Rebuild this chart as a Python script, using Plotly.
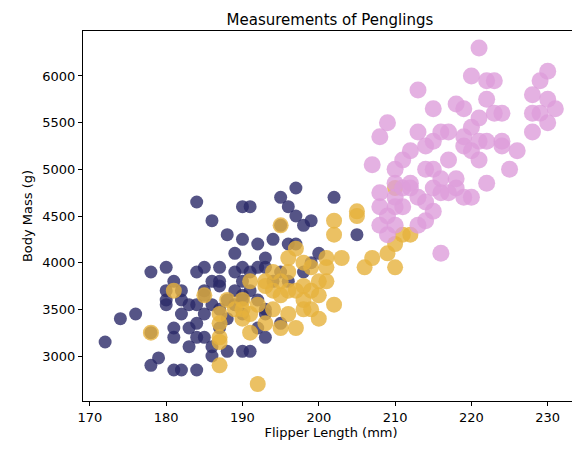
import plotly.graph_objects as go

adelie_flipper = [172,174,176,178,178,178,179,180,180,180,180,181,181,181,181,182,182,182,183,183,184,184,184,184,184,185,185,185,185,186,186,186,186,187,187,187,187,188,188,188,189,189,189,189,190,190,190,190,190,190,191,191,191,191,192,192,192,193,193,193,193,194,194,195,195,195,195,196,196,196,197,197,197,198,198,199,199,200,202,205,190,186,188,184,193,192,190,187,185,183,182]
adelie_mass = [3150,3400,3450,3900,3250,2900,2980,3950,3700,3600,3550,3800,3300,3200,2850,3450,3700,3600,3550,3100,3900,4650,3550,3350,2850,3700,3450,3650,3200,3800,4450,3100,3000,3750,3800,3500,3300,4300,3600,3050,3900,4100,3700,3550,4600,4250,3950,3800,3450,3050,4600,3900,3700,3050,4200,3600,3300,3950,4050,3500,3200,4250,3800,4700,4400,3900,3350,4600,4200,3800,4800,4500,4200,4400,3900,4450,4000,4100,4700,4300,3650,3550,3400,3200,3450,3950,3600,3950,3950,3300,2850]

chin_flipper = [178,181,185,187,187,187,187,188,189,190,190,190,191,191,192,192,193,193,193,194,194,195,195,195,196,196,196,197,197,197,198,198,198,199,199,200,200,201,201,201,202,202,202,203,205,205,206,207,209,210,210,210,211,212,199,194,191,196,198,200,195,187]
chin_mass = [3250,3700,3650,2900,3200,3350,3450,3600,3500,3400,3600,3500,3800,3450,2700,3550,3750,3800,3350,3700,3500,4400,3300,3650,3900,3700,3450,4150,3700,3300,3750,3600,3500,3950,3700,3800,3400,4050,3950,3800,4450,4300,3550,4050,4550,4500,3950,4050,4100,4800,4200,3950,4300,4300,3500,3900,3250,4050,4000,3650,3800,3150]

gentoo_flipper = [207,208,208,208,209,209,209,210,210,210,210,211,211,212,212,213,213,213,213,214,214,214,215,215,215,215,215,216,216,216,216,217,217,218,218,218,219,219,219,219,220,220,220,220,221,221,221,222,222,222,222,223,223,224,224,224,225,226,228,228,228,229,229,230,230,230,231,208,217,211,214,221,212,210]
gentoo_mass = [5050,4600,4400,5350,4300,4500,5500,4700,4850,5000,4400,4800,4600,4850,5200,4400,4700,5400,5850,4650,5000,5250,4800,5000,5300,5650,4550,4900,4750,5400,4100,4750,5100,5700,4800,4900,5250,5350,4700,5650,5200,4700,6000,5450,5550,6300,5100,5950,4850,5300,5750,5600,5950,5300,5250,5600,5000,5200,5400,5600,5800,5950,5600,6050,5500,5750,5650,4750,5400,5100,4450,5300,4800,4600]

species = [
    ("Adelie", adelie_flipper, adelie_mass, "#2b2968", 13),
    ("Chinstrap", chin_flipper, chin_mass, "#e6b23c", 16),
    ("Gentoo", gentoo_flipper, gentoo_mass, "#dd9ddb", 17),
]

fig = go.Figure()
for name, fx, my, col, sz in species:
    fig.add_trace(go.Scatter(x=fx, y=my, mode="markers", name=name,
                             marker=dict(color=col, size=sz, opacity=0.8, line=dict(width=0))))

axis = dict(showgrid=False, zeroline=False, showline=True, linecolor="black", linewidth=1,
            mirror=True, ticks="outside", ticklen=4, tickcolor="black",
            tickfont=dict(size=13, color="black"))
fig.update_layout(
    width=580, height=453, plot_bgcolor="white", paper_bgcolor="white",
    margin=dict(l=75, r=9, t=23, b=60), showlegend=False,
    font=dict(family="DejaVu Sans", color="black"),
    title=dict(text="Measurements of Penglings", x=0.555, xanchor="center", y=0.985, yanchor="top",
               font=dict(size=15)),
    xaxis=dict(axis, range=[169.1, 234.1], tickvals=[170,180,190,200,210,220,230],
               title=dict(text="Flipper Length (mm)", font=dict(size=13), standoff=4)),
    yaxis=dict(axis, range=[2518, 6482], tickvals=[3000,3500,4000,4500,5000,5500,6000],
               title=dict(text="Body Mass (g)", font=dict(size=13), standoff=6)),
)
fig.write_html("out.html")
